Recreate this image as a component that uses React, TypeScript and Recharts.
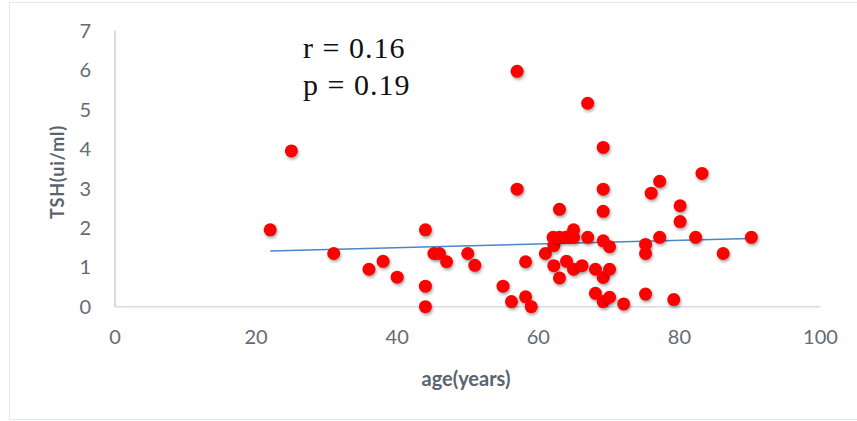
import { CartesianGrid, ReferenceLine, Scatter, ScatterChart, XAxis, YAxis } from "recharts";

// Age (years) and TSH (ui/ml) for each patient
const ages = [
  22, 25, 31, 36, 38, 40, 44, 44, 44, 45.2, 46, 47, 50, 51, 55, 56.2, 57, 57, 58.2, 58.2,
  59, 61, 62.1, 62.2, 62.2, 63, 63, 63, 64, 64, 65, 65, 65, 66.2, 67, 67, 68.1, 68.1,
  69.2, 69.2, 69.2, 69.2, 69.2, 69.2, 70.1, 70.1, 70.1, 72.1, 75.2, 75.2, 75.2, 76, 77.2,
  77.2, 79.2, 80.1, 80.1, 82.3, 83.2, 86.2, 90.2,
];
const tsh = [
  1.95, 3.95, 1.35, 0.95, 1.15, 0.75, 1.95, 0.52, 0, 1.35, 1.35, 1.14, 1.35, 1.05, 0.52,
  0.13, 5.97, 2.98, 1.14, 0.25, 0, 1.35, 1.76, 1.55, 1.04, 2.47, 1.76, 0.73, 1.77, 1.15,
  1.95, 1.76, 0.95, 1.04, 5.16, 1.76, 0.95, 0.34, 4.04, 2.98, 2.42, 1.67, 0.74, 0.13,
  1.52, 0.95, 0.24, 0.07, 1.58, 1.35, 0.32, 2.88, 3.18, 1.76, 0.18, 2.56, 2.16, 1.76,
  3.38, 1.35, 1.76,
];

// linear fit endpoints
const trendAge = [22, 90];
const trendTsh = [1.41, 1.73];

const xTicks = [0, 20, 40, 60, 80, 100];
const yTicks = [0, 1, 2, 3, 4, 5, 6, 7];

const points = ages.map((age, i) => ({ age, tsh: tsh[i] }));

const tickStyle = { fontSize: 20, fill: "#646b75", fontFamily: "Lato, sans-serif" };

function Dot(props: any) {
  const { cx, cy } = props;
  return (
    <circle
      cx={cx}
      cy={cy}
      r={6.5}
      fill="#ff0000"
      style={{ filter: "drop-shadow(1px 2px 1.5px rgba(0,0,0,0.35))" }}
    />
  );
}

export default function App() {
  return (
    <div
      style={{
        position: "absolute",
        left: 0,
        top: 0,
        width: 857,
        height: 421,
        overflow: "hidden",
        background: "#fff",
      }}
    >
      <div
        style={{
          position: "absolute",
          left: 9,
          top: 2,
          width: 900,
          height: 416,
          border: "1.5px solid #e2e7ee",
        }}
      />
      <ScatterChart
        width={857}
        height={421}
        margin={{ top: 30.7, right: 36.5, bottom: 74.3, left: 0 }}
        style={{ position: "absolute", left: 0, top: 0 }}
      >
        <CartesianGrid horizontal={false} vertical={false} />
        <XAxis
          type="number"
          dataKey="age"
          domain={[0, 100]}
          ticks={xTicks}
          height={40}
          tickSize={0}
          tickMargin={23}
          tickLine={false}
          axisLine={{ stroke: "#d5dce6", strokeWidth: 1.5 }}
          tick={tickStyle}
        />
        <YAxis
          type="number"
          dataKey="tsh"
          domain={[0, 7]}
          ticks={yTicks}
          width={115}
          tickSize={0}
          tickMargin={24}
          tickLine={false}
          axisLine={{ stroke: "#c3cfdf", strokeWidth: 1.5 }}
          tick={tickStyle}
        />
        <ReferenceLine
          segment={[
            { x: trendAge[0], y: trendTsh[0] },
            { x: trendAge[1], y: trendTsh[1] },
          ]}
          stroke="#4a86c8"
          strokeWidth={1.5}
        />
        <Scatter data={points} shape={<Dot />} isAnimationActive={false} />
      </ScatterChart>
      <div
        style={{
          position: "absolute",
          left: 303,
          top: 29,
          fontFamily: "'Liberation Serif', serif",
          fontSize: 30,
          lineHeight: "37px",
          color: "#111",
          letterSpacing: 1,
          whiteSpace: "pre",
        }}
      >
        {"r = 0.16\np = 0.19"}
      </div>
      <div
        style={{
          position: "absolute",
          left: 466,
          top: 378,
          transform: "translate(-50%, -50%)",
          fontFamily: "Lato, sans-serif",
          fontWeight: 700,
          fontSize: 20,
          color: "#5a6470",
          whiteSpace: "nowrap",
        }}
      >
        age(years)
      </div>
      <div
        style={{
          position: "absolute",
          left: 57,
          top: 172,
          transform: "translate(-50%, -50%) rotate(-90deg)",
          fontFamily: "Lato, sans-serif",
          fontWeight: 700,
          fontSize: 18,
          letterSpacing: 0.8,
          color: "#5a6470",
          whiteSpace: "nowrap",
        }}
      >
        TSH(ui/ml)
      </div>
    </div>
  );
}
